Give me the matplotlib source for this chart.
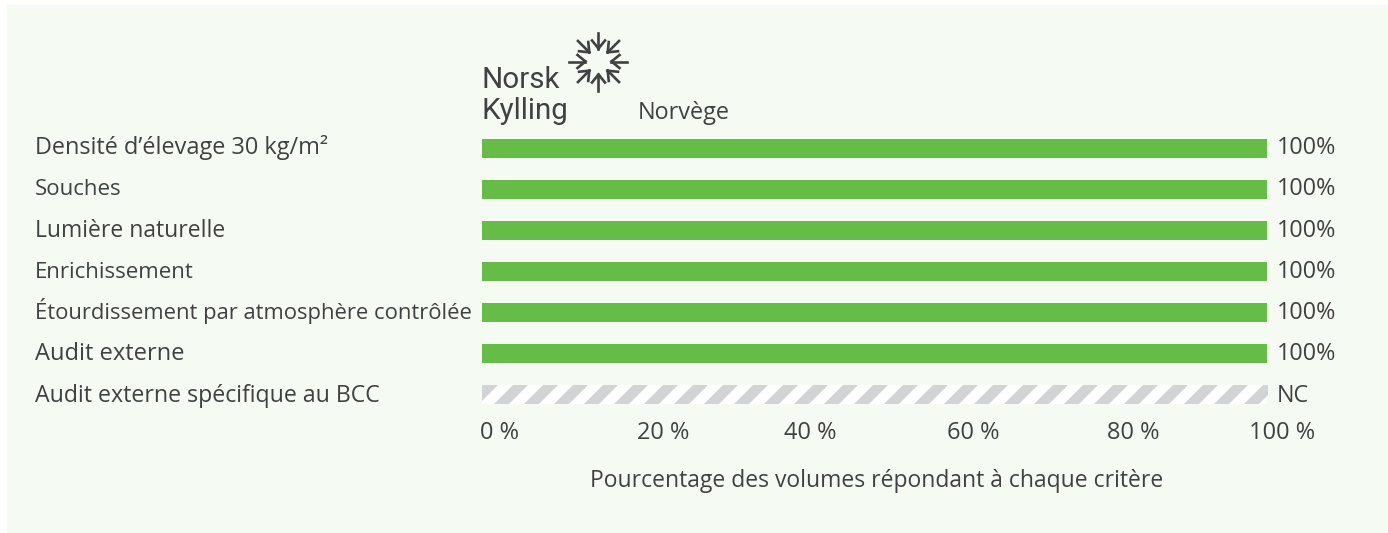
import numpy as np
import matplotlib
matplotlib.use("Agg")
import matplotlib.pyplot as plt
from matplotlib.patches import Rectangle, Polygon

plt.rcParams['font.family'] = ['Open Sans', 'DejaVu Sans']

W, H = 1388, 533
BG = "#f5fbf2"
GREEN = "#65bc46"
GREY = "#d2d3d5"
TEXT = "#414042"

criteria = ["Densité d’élevage 30 kg/m²", "Souches", "Lumière naturelle", "Enrichissement",
            "Étourdissement par atmosphère contrôlée", "Audit externe",
            "Audit externe spécifique au BCC"]
values = [100, 100, 100, 100, 100, 100, None]
value_labels = ["100%", "100%", "100%", "100%", "100%", "100%", "NC"]
ticks = [0, 20, 40, 60, 80, 100]
tick_labels = ["0 %", "20 %", "40 %", "60 %", "80 %", "100 %"]
tick_shift = [18, 24.5, 14, 20, 23, 15]  # labels sit off the scale in the original
label_sizes = [16.9, 16, 16.5, 16, 15.85, 17, 16.7]
flake_angles = [90, 45, 0, -45, -90, -135, 180, 135]

fig = plt.figure(figsize=(W / 100, H / 100), dpi=100, facecolor="white")
fig.add_artist(Rectangle((7 / W, 0), 1, 1 - 5 / H, transform=fig.transFigure, fc=BG, ec="none", zorder=-1))

ax = fig.add_axes([482 / W, 1 - 415 / H, 785 / W, 290 / H])
ax.patch.set_alpha(0)
ax.set_xlim(0, 100)
ax.set_ylim(6.5, -0.573)
for s in ax.spines.values():
    s.set_visible(False)

# overlay in pixel coords for logo and stripes
px = fig.add_axes([0, 0, 1, 1], zorder=1)
px.set_xlim(0, W)
px.set_ylim(H, 0)
px.axis("off")

y = np.arange(len(criteria))
for i, v in enumerate(values):
    if v is not None:
        ax.barh(y[i], v, height=0.463, color=GREEN)
        continue
    # NC bar: white with diagonal grey stripes
    ax.barh(y[i], 100, height=0.463, color="white")
    clip = Rectangle((482, 385), 786, 19, transform=px.transData)
    for x0 in range(464, 1290, 30):
        st = Polygon([(x0, 404), (x0 + 15, 404), (x0 + 34, 385), (x0 + 19, 385)], fc=GREY, ec="none")
        px.add_patch(st)
        st.set_clip_path(clip)

ax.set_xticks([])
ax.set_yticks([])

for i, name in enumerate(criteria):
    base = 1 - (154 + i * 41.3) / H
    fig.text(35 / W, base, name, fontsize=label_sizes[i], color=TEXT, va="baseline")
    fig.text(1277 / W, base, value_labels[i], fontsize=16.8, color=TEXT, va="baseline")
for t, lab, dx in zip(ticks, tick_labels, tick_shift):
    ax.annotate(lab, (t, 0), xycoords=("data", "axes fraction"), xytext=(dx, -24), textcoords="offset pixels",
                fontsize=17, color=TEXT, ha="center", va="baseline", annotation_clip=False)
fig.text(877 / W, 1 - 487 / H, "Pourcentage des volumes répondant à chaque critère", fontsize=16.5,
         color=TEXT, ha="center", va="baseline")

# logo
fig.text(482 / W, 1 - 88 / H, "Norsk", fontsize=21.3, color=TEXT, va="baseline", family="Roboto")
fig.text(482 / W, 1 - 119 / H, "Kylling", fontsize=21.3, color=TEXT, va="baseline", family="Roboto")
fig.text(638 / W, 1 - 119 / H, "Norvège", fontsize=16.9, color=TEXT, va="baseline")
cx, cy = 598.5, 61.5
for a in flake_angles:
    d = np.array([np.cos(np.radians(a)), -np.sin(np.radians(a))])
    n = np.array([-d[1], d[0]])
    tip = np.array([cx, cy]) + d * 13
    tail = np.array([cx, cy]) + d * 29
    px.plot([tip[0], tail[0]], [tip[1], tail[1]], color=TEXT, lw=1.9)
    for sgn in (-1, 1):
        w = tip + d * 8 + n * sgn * 6.5
        px.plot([tip[0], w[0]], [tip[1], w[1]], color=TEXT, lw=1.9)

fig.savefig("out.png", dpi=100)
